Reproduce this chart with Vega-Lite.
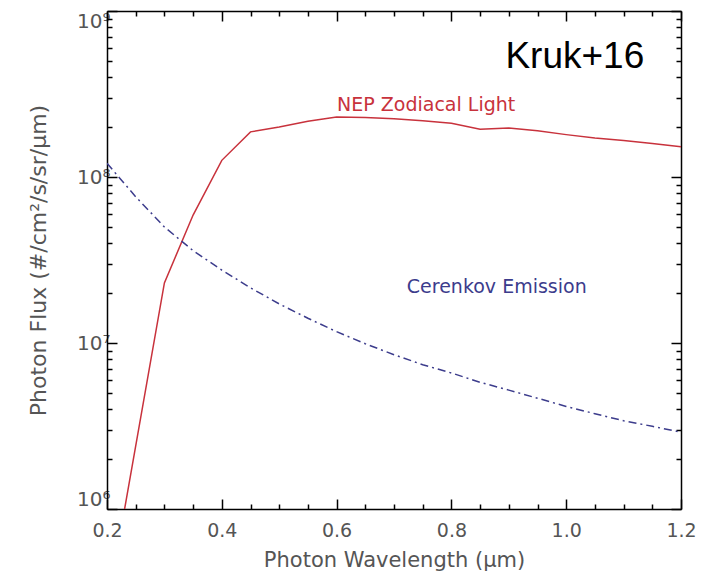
{
  "$schema": "https://vega.github.io/schema/vega-lite/v6.json",
  "width": 574,
  "height": 498,
  "autosize": {"type": "none"},
  "padding": {"left": 107, "top": 11, "right": 38, "bottom": 65},
  "background": "white",
  "config": {
    "view": {"stroke": null},
    "axis": {
      "grid": false,
      "labelFont": "DejaVu Sans",
      "titleFont": "DejaVu Sans",
      "labelColor": "#555555",
      "titleColor": "#555555",
      "titleFontWeight": "normal",
      "domainColor": "black",
      "domainWidth": 1.5,
      "tickColor": "black",
      "tickWidth": 1.5
    }
  },
  "datasets": {
    "zodi": [
      {"wl": 0.2, "flux": 250000},
      {"wl": 0.3, "flux": 23000000},
      {"wl": 0.35, "flux": 59000000},
      {"wl": 0.4, "flux": 126000000},
      {"wl": 0.45, "flux": 187000000},
      {"wl": 0.5, "flux": 200000000},
      {"wl": 0.55, "flux": 217000000},
      {"wl": 0.6, "flux": 230000000},
      {"wl": 0.65, "flux": 228000000},
      {"wl": 0.7, "flux": 224000000},
      {"wl": 0.75, "flux": 218000000},
      {"wl": 0.8, "flux": 211000000},
      {"wl": 0.85, "flux": 194000000},
      {"wl": 0.9, "flux": 197000000},
      {"wl": 0.95, "flux": 190000000},
      {"wl": 1.0, "flux": 180000000},
      {"wl": 1.05, "flux": 172000000},
      {"wl": 1.1, "flux": 166000000},
      {"wl": 1.15, "flux": 159000000},
      {"wl": 1.2, "flux": 152000000}
    ],
    "cer": [
      {"wl": 0.2, "flux": 121000000},
      {"wl": 0.25, "flux": 76000000},
      {"wl": 0.3, "flux": 50000000},
      {"wl": 0.35, "flux": 36000000},
      {"wl": 0.4, "flux": 27500000},
      {"wl": 0.45, "flux": 21500000},
      {"wl": 0.5, "flux": 17200000},
      {"wl": 0.55, "flux": 14100000},
      {"wl": 0.6, "flux": 11700000},
      {"wl": 0.65, "flux": 9900000},
      {"wl": 0.7, "flux": 8500000},
      {"wl": 0.75, "flux": 7400000},
      {"wl": 0.8, "flux": 6600000},
      {"wl": 0.85, "flux": 5800000},
      {"wl": 0.9, "flux": 5200000},
      {"wl": 0.95, "flux": 4650000},
      {"wl": 1.0, "flux": 4150000},
      {"wl": 1.05, "flux": 3750000},
      {"wl": 1.1, "flux": 3400000},
      {"wl": 1.15, "flux": 3150000},
      {"wl": 1.2, "flux": 2900000}
    ]
  },
  "layer": [
    {
      "data": {"name": "zodi"},
      "mark": {"type": "line", "color": "#c8323c", "strokeWidth": 1.5, "clip": true},
      "encoding": {
        "x": {
          "field": "wl", "type": "quantitative",
          "scale": {"domain": [0.2, 1.2], "nice": false, "zero": false},
          "axis": {
            "orient": "bottom",
            "values": [0.2, 0.4, 0.6, 0.8, 1.0, 1.2],
            "format": ".1f",
            "tickSize": -10,
            "labelFlush": false,
            "labelPadding": 22,
            "labelFontSize": 19,
            "title": "Photon Wavelength (μm)",
            "titleFontSize": 21,
            "titlePadding": 9
          }
        },
        "y": {
          "field": "flux", "type": "quantitative",
          "scale": {"type": "log", "domain": [1000000, 1000000000], "nice": false},
          "axis": {
            "orient": "left",
            "values": [1000000, 10000000, 100000000, 1000000000],
            "labelExpr": "datum.value < 5000000 ? '10⁶' : datum.value < 50000000 ? '10⁷' : datum.value < 500000000 ? '10⁸' : '10⁹'",
            "labelFlush": true,
            "tickSize": -10,
            "labelPadding": 7,
            "labelFontSize": 20,
            "title": "Photon Flux (#/cm²/s/sr/μm)",
            "titleFontSize": 22,
            "titlePadding": 26
          }
        }
      }
    },
    {
      "data": {"name": "cer"},
      "mark": {"type": "line", "color": "#3c3c8c", "strokeWidth": 1.5, "strokeDash": [8, 4, 2, 4], "clip": true},
      "encoding": {
        "x": {
          "field": "wl", "type": "quantitative",
          "axis": {"orient": "top", "values": [0.2, 0.4, 0.6, 0.8, 1.0, 1.2], "labels": false, "tickSize": -10, "title": null}
        },
        "y": {
          "field": "flux", "type": "quantitative",
          "axis": {"orient": "right", "values": [1000000, 10000000, 100000000, 1000000000], "labels": false, "tickSize": -10, "title": null}
        }
      }
    },
    {
      "data": {"values": [{}]},
      "mark": {"type": "text", "text": "NEP Zodiacal Light", "color": "#c8323c", "font": "DejaVu Sans", "fontSize": 19, "align": "center", "baseline": "alphabetic"},
      "encoding": {
        "x": {
          "datum": 0.756, "type": "quantitative",
          "axis": {"orient": "bottom", "values": [0.25, 0.3, 0.35, 0.45, 0.5, 0.55, 0.65, 0.7, 0.75, 0.85, 0.9, 0.95, 1.05, 1.1, 1.15], "labels": false, "domain": false, "tickSize": -5, "title": null}
        },
        "y": {
          "datum": 250000000, "type": "quantitative",
          "axis": {"orient": "left", "values": [2000000, 3000000, 4000000, 5000000, 6000000, 7000000, 8000000, 9000000, 20000000, 30000000, 40000000, 50000000, 60000000, 70000000, 80000000, 90000000, 200000000, 300000000, 400000000, 500000000, 600000000, 700000000, 800000000, 900000000], "labels": false, "domain": false, "tickSize": -5, "title": null}
        }
      }
    },
    {
      "data": {"values": [{}]},
      "mark": {"type": "text", "text": "Cerenkov Emission", "color": "#3c3c8c", "font": "DejaVu Sans", "fontSize": 19, "align": "center", "baseline": "alphabetic"},
      "encoding": {
        "x": {
          "datum": 0.879, "type": "quantitative",
          "axis": {"orient": "top", "values": [0.25, 0.3, 0.35, 0.45, 0.5, 0.55, 0.65, 0.7, 0.75, 0.85, 0.9, 0.95, 1.05, 1.1, 1.15], "labels": false, "domain": false, "tickSize": -5, "title": null}
        },
        "y": {
          "datum": 20000000, "type": "quantitative",
          "axis": {"orient": "right", "values": [2000000, 3000000, 4000000, 5000000, 6000000, 7000000, 8000000, 9000000, 20000000, 30000000, 40000000, 50000000, 60000000, 70000000, 80000000, 90000000, 200000000, 300000000, 400000000, 500000000, 600000000, 700000000, 800000000, 900000000], "labels": false, "domain": false, "tickSize": -5, "title": null}
        }
      }
    },
    {
      "data": {"values": [{}]},
      "mark": {"type": "text", "text": "Kruk+16", "color": "black", "font": "Liberation Sans", "fontSize": 37, "align": "center", "baseline": "alphabetic"},
      "encoding": {
        "x": {"datum": 1.015, "type": "quantitative", "axis": null},
        "y": {"datum": 454000000, "type": "quantitative", "axis": null}
      }
    }
  ],
  "resolve": {"axis": {"x": "independent", "y": "independent"}}
}
